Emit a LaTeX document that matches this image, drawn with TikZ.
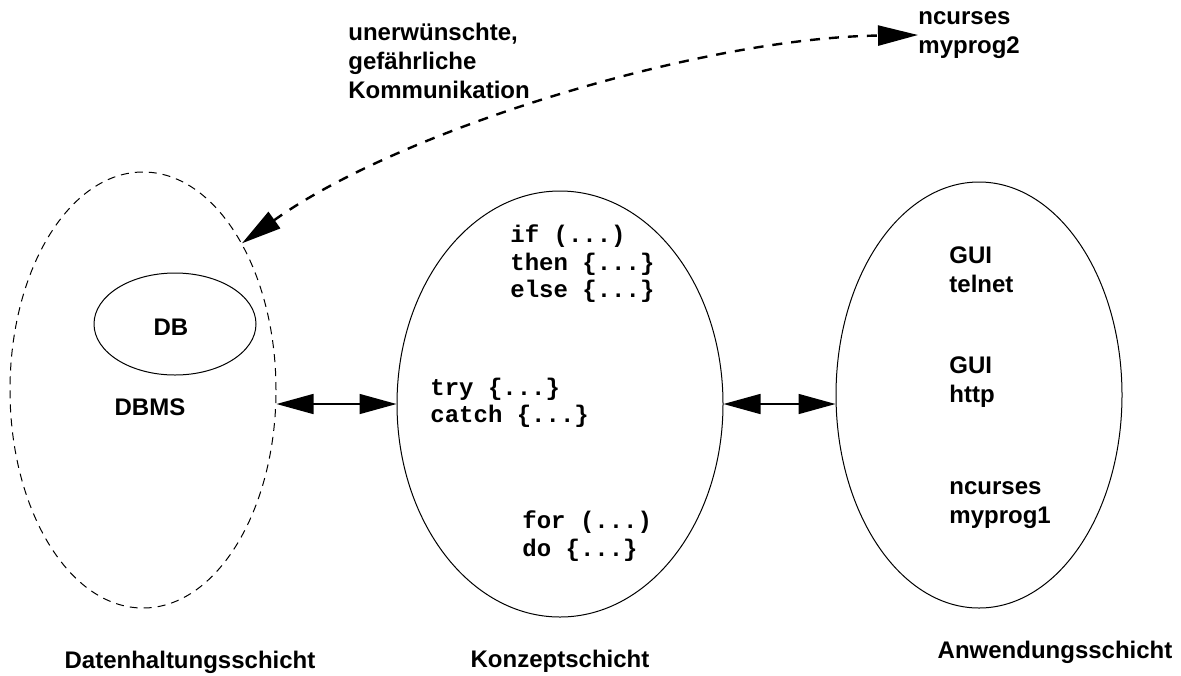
\documentclass[tikz,border=0pt]{standalone}
\usepackage{fontspec}
\setmainfont{Liberation Sans}
\setmonofont{Liberation Mono}
\usetikzlibrary{shapes.geometric,arrows.meta}
\begin{document}
\begin{tikzpicture}[x=0.5pt,y=-0.5pt,
  layer/.style={draw,ellipse,inner sep=0pt,line width=0.5pt},
  lbl/.style={font=\fontsize{12}{14.5}\selectfont\bfseries,inner sep=0pt},
  lbll/.style={lbl,anchor=west,align=left},
  code/.style={font=\fontsize{12}{13.75}\selectfont\ttfamily\bfseries,inner sep=0pt,align=left,anchor=west},
  dbl/.style={{Triangle[length=18.5pt,width=10pt]}-{Triangle[length=18.5pt,width=10pt]},line width=0.75pt},
  dasharr/.style={{Triangle[length=20pt,width=10pt]}-{Triangle[length=20pt,width=10pt]},line width=1.2pt,dash pattern=on 5pt off 4.5pt},
  ]
\useasboundingbox (0,0) rectangle (1181,675);
% layers
\node[layer,dash pattern=on 4pt off 3pt,minimum width=133pt,minimum height=218pt] (L) at (143,390) {};
\node[layer,minimum width=81pt,minimum height=51pt] (DBe) at (175,324) {};
\node[layer,minimum width=163pt,minimum height=213pt] (M) at (560,404) {};
\node[layer,minimum width=143pt,minimum height=213pt] (R) at (979,395) {};
% texts
\node[lbll] (warn) at (348,61) {unerwünschte,\\gefährliche\\Kommunikation};
\node[lbll] (n2) at (918,35) {ncurses\\myprog2};
\node[lbl] (db) at (171,327) {DB};
\node[lbl] (dbms) at (150,407) {DBMS};
\node[code] (ite) at (510,264) {if (...)\\then \{...\}\\else \{...\}};
\node[code] (tc) at (430,403) {try \{...\}\\catch \{...\}};
\node[code] (fd) at (522,536) {for (...)\\do \{...\}};
\node[lbll] (g1) at (949,270) {GUI\\telnet};
\node[lbll] (g2) at (949,382) {GUI\\http};
\node[lbll] (g3) at (949,505) {ncurses\\myprog1};
\node[lbl] (t1) at (190,662) {Datenhaltungsschicht};
\node[lbl] (t2) at (560,661) {Konzeptschicht};
\node[lbl] (t3) at (1055,652) {Anwendungsschicht};
% connectors
\draw[dbl] (L.east |- M.west) -- (M.west);
\draw[dbl] (M.east) -- (R.west |- M.east);
\draw[dasharr] (L.56) .. controls (400,130) and (700,38) .. (n2.west);
\end{tikzpicture}
\end{document}
